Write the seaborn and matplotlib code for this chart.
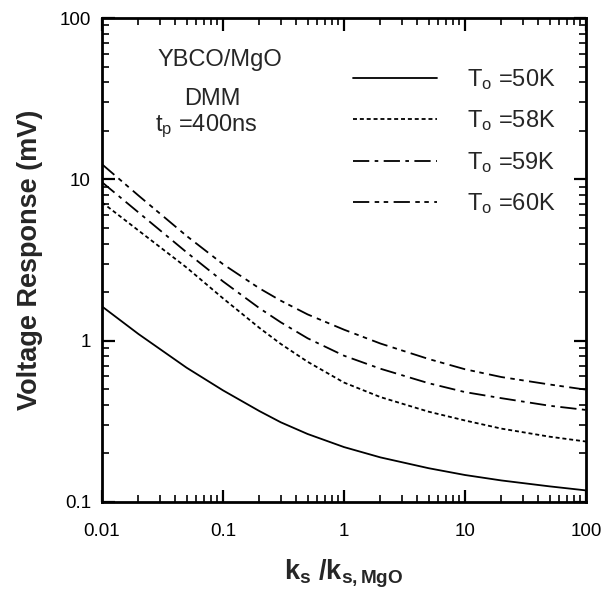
import matplotlib
matplotlib.use("Agg")
import matplotlib.pyplot as plt
import seaborn as sns
import pandas as pd

# ---- data ----
k_ratio = [0.01, 0.02, 0.05, 0.1, 0.2, 0.3, 0.5, 1, 2, 5, 10, 20, 50, 100]
v_50K = [1.63, 1.10, 0.68, 0.492, 0.366, 0.312, 0.264, 0.219, 0.189, 0.162, 0.147, 0.136, 0.125, 0.118]
v_58K = [7.2, 4.82, 2.84, 1.83, 1.20, 0.955, 0.74, 0.55, 0.447, 0.363, 0.32, 0.285, 0.254, 0.237]
v_59K = [9.6, 6.24, 3.53, 2.33, 1.59, 1.30, 1.035, 0.807, 0.67, 0.545, 0.48, 0.44, 0.395, 0.372]
v_60K = [12.4, 7.94, 4.46, 2.98, 2.11, 1.77, 1.455, 1.17, 0.96, 0.77, 0.665, 0.595, 0.535, 0.497]
series_labels = ["T$_\\mathrm{o}$ =50K", "T$_\\mathrm{o}$ =58K",
                 "T$_\\mathrm{o}$ =59K", "T$_\\mathrm{o}$ =60K"]
x_ticks = [0.01, 0.1, 1, 10, 100]
x_ticklabels = ["0.01", "0.1", "1", "10", "100"]
y_ticks = [0.1, 1, 10, 100]
y_ticklabels = ["0.1", "1", "10", "100"]

sns.set_style("ticks")
plt.rcParams['font.family'] = ['Liberation Sans', 'DejaVu Sans']
plt.rcParams['mathtext.fontset'] = 'custom'
plt.rcParams['mathtext.rm'] = 'Liberation Sans'
plt.rcParams['mathtext.it'] = 'Liberation Sans:italic'
plt.rcParams['mathtext.bf'] = 'Liberation Sans:bold'

rows = []
for lab, vals in zip(series_labels, [v_50K, v_58K, v_59K, v_60K]):
    for k, v in zip(k_ratio, vals):
        rows.append({"k": k, "V": v, "T": lab})
df = pd.DataFrame(rows)

dash_map = {
    series_labels[0]: "",
    series_labels[1]: (2.2, 1.6),
    series_labels[2]: (9, 3, 2, 3),
    series_labels[3]: (9, 3, 2.5, 2.5, 2.5, 3),
}

fig = plt.figure(figsize=(6.15, 5.94), dpi=100)
ax = fig.add_axes([102/615, 1-502/594, 484/615, 484/594])

sns.lineplot(data=df, x="k", y="V", style="T", dashes=dash_map,
             color="black", linewidth=1.3, ax=ax, legend=False,
             style_order=series_labels)

ax.set_xscale("log")
ax.set_yscale("log")
ax.set_xlim(0.01, 100)
ax.set_ylim(0.1, 100)
ax.set_xticks(x_ticks)
ax.set_xticklabels(x_ticklabels)
ax.set_yticks(y_ticks)
ax.set_yticklabels(y_ticklabels)

for s in ax.spines.values():
    s.set_visible(True)
    s.set_linewidth(2.0)
    s.set_color("black")

ax.tick_params(which="major", direction="in", length=9, width=1.6,
               top=True, right=True, labelsize=13.5, pad=8, colors="black")
ax.tick_params(which="minor", direction="in", length=5, width=1.4,
               top=True, right=True)
ax.tick_params(axis="x", which="major", pad=15)

ax.set_xlabel(r"$\mathbf{k_s}$ $\mathbf{/k_{s,MgO}}$", fontsize=19.5, labelpad=13)
ax.set_ylabel("Voltage Response (mV)", fontsize=19.5, fontweight="bold", labelpad=12)

ax.text((220-102)/484, (502-60)/484, "YBCO/MgO", transform=ax.transAxes, ha="center",
        va="center", fontsize=17)
ax.text((212-102)/484, (502-99)/484, "DMM", transform=ax.transAxes, ha="center",
        va="center", fontsize=17)
ax.text((155-102)/484, (502-126)/484, "t$_\\mathrm{p}$ =400ns", transform=ax.transAxes,
        ha="left", va="center", fontsize=17)

lines = ax.get_lines()[:4]
ax.legend(lines, series_labels, loc="upper left",
          bbox_to_anchor=((353-102)/484, (502-67)/484),
          frameon=False, fontsize=17, handlelength=3.56, handletextpad=1.25,
          labelspacing=0.7, borderaxespad=0, borderpad=0)

ax.grid(False)
fig.savefig("out.png", dpi=100)
